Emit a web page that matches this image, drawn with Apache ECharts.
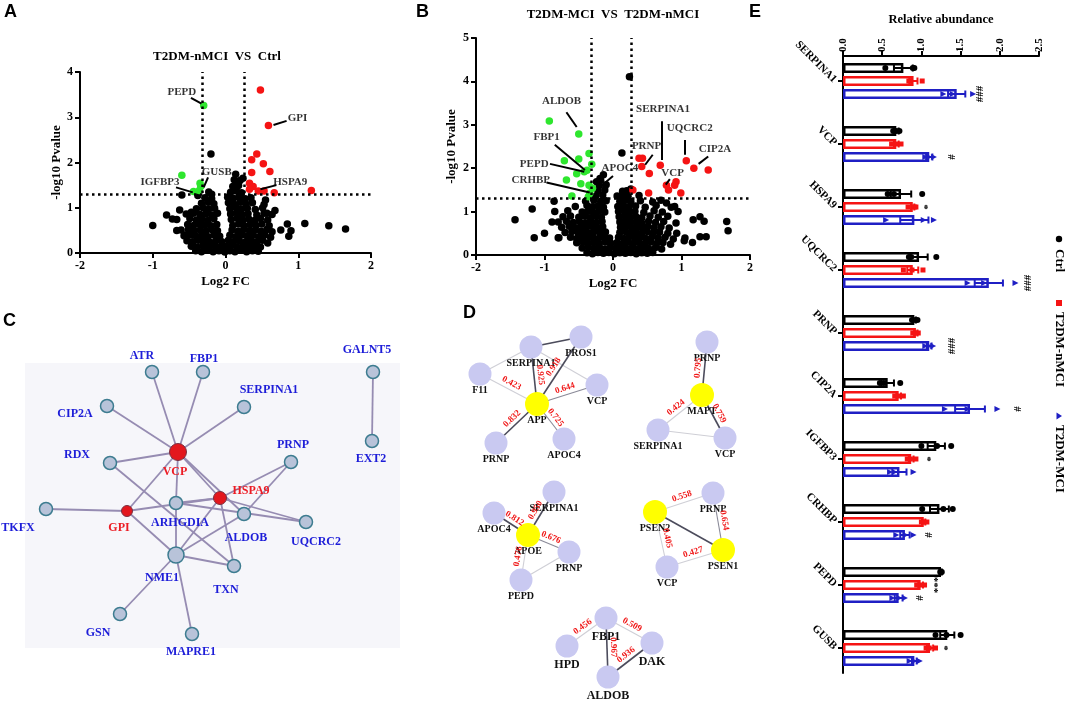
<!DOCTYPE html>
<html><head><meta charset="utf-8">
<script src="https://cdn.jsdelivr.net/npm/echarts/dist/echarts.min.js"></script>
<style>html,body{margin:0;padding:0;background:#fff}#c{width:1065px;height:704px}</style>
</head><body><div id="c"></div>
<script>
// ---------------- DATA ----------------
// Panel A volcano (T2DM-nMCI VS Ctrl): [log2FC, -log10 P]
const aBlack = [[-1.00,0.61],[1.09,0.65],[1.42,0.60],[1.65,0.53],[0.85,0.64],[0.76,0.51],[0.90,0.49],[0.87,0.37],[-0.20,2.19],[-0.38,1.27],[-0.60,1.28],[-0.81,0.84],[-0.73,0.75],[-0.63,0.95],[-0.47,0.90],[-0.61,0.51],[-0.56,0.40],[-0.19,1.30],[0.55,1.17],[0.57,0.88],[0.68,0.94],[0.14,1.74],[0.24,1.65],[0.14,1.58],
[-0.41,0.05],[-0.33,0.03],[-0.25,0.06],[-0.17,0.03],[-0.09,0.05],[-0.01,0.02],[0.06,0.05],[0.13,0.03],[0.21,0.06],[0.29,0.03],[0.37,0.05],[0.45,0.04],
[-0.47,0.15],[-0.39,0.13],[-0.31,0.16],[-0.23,0.14],[-0.15,0.16],[-0.07,0.13],[0.01,0.15],[0.09,0.17],[0.16,0.13],[0.24,0.15],[0.32,0.14],[0.40,0.16],[0.48,0.13],
[-0.53,0.27],[-0.45,0.25],[-0.37,0.28],[-0.29,0.26],[-0.21,0.24],[-0.13,0.27],[-0.05,0.25],[0.04,0.28],[0.11,0.25],[0.19,0.27],[0.27,0.24],[0.35,0.27],[0.43,0.25],[0.51,0.28],[0.58,0.22],
[-0.57,0.38],[-0.48,0.40],[-0.40,0.37],[-0.32,0.39],[-0.24,0.36],[-0.16,0.40],[-0.08,0.37],[0.06,0.39],[0.14,0.36],[0.22,0.40],[0.30,0.37],[0.38,0.39],[0.46,0.36],[0.54,0.40],[0.62,0.35],
[-0.67,0.50],[-0.51,0.52],[-0.43,0.49],[-0.35,0.51],[-0.27,0.48],[-0.19,0.52],[-0.11,0.49],[0.09,0.51],[0.17,0.48],[0.25,0.52],[0.33,0.49],[0.41,0.51],[0.49,0.48],[0.57,0.52],[0.64,0.47],
[-0.52,0.63],[-0.44,0.61],[-0.36,0.64],[-0.28,0.62],[-0.20,0.60],[-0.12,0.63],[0.10,0.61],[0.18,0.64],[0.26,0.60],[0.34,0.63],[0.42,0.61],[0.50,0.64],[0.60,0.60],
[-0.67,0.74],[-0.49,0.76],[-0.40,0.73],[-0.32,0.75],[-0.24,0.72],[-0.16,0.76],[0.08,0.74],[0.16,0.77],[0.24,0.73],[0.32,0.75],[0.40,0.72],[0.48,0.76],[0.58,0.73],
[-0.54,0.86],[-0.44,0.88],[-0.35,0.85],[-0.27,0.87],[-0.19,0.84],[-0.11,0.88],[0.07,0.86],[0.15,0.89],[0.23,0.85],[0.31,0.87],[0.43,0.84],[0.53,0.88],[0.64,0.85],
[-0.40,0.98],[-0.31,1.00],[-0.23,0.97],[-0.15,0.99],[0.06,0.98],[0.14,1.01],[0.22,0.97],[0.30,0.99],[0.41,0.96],[0.51,1.00],
[-0.33,1.10],[-0.24,1.12],[-0.16,1.09],[0.04,1.11],[0.12,1.08],[0.20,1.12],[0.28,1.09],[0.37,1.11],[0.53,1.07],
[-0.28,1.22],[-0.19,1.20],[0.03,1.23],[0.11,1.21],[0.19,1.24],[0.27,1.20],[0.35,1.22],
[-0.23,1.35],[0.07,1.34],[0.15,1.37],[0.22,1.33],[0.10,1.47],[0.18,1.49],[0.12,1.62],[0.20,1.60]];
const aGreen = [[-0.30,3.26],[-0.60,1.72],[-0.35,1.54],[-0.34,1.47],[-0.44,1.36],[-0.36,1.38]];
const aRed = [[0.48,3.60],[0.59,2.82],[0.43,2.19],[0.36,2.06],[0.52,1.97],[0.36,1.78],[0.61,1.80],[0.33,1.54],[0.38,1.47],[0.33,1.41],[0.45,1.37],[0.53,1.37],[0.67,1.33],[1.18,1.38]];
const aLabels = ['PEPD','GPI','GUSB','IGFBP3','HSPA9'];

// Panel B volcano (T2DM-MCI VS T2DM-nMCI)
const bBlack = [[0.24,4.11],[0.13,2.35],[-0.14,1.85],[-0.24,1.69],[-0.19,1.76],[-1.43,0.81],[-1.18,1.06],[-1.15,0.40],[-1.00,0.50],[-0.79,0.40],[-0.86,1.24],[-0.89,0.76],[1.66,0.77],[1.68,0.56],[1.16,0.29],[1.04,0.33],[1.27,0.42],[1.36,0.42],[1.27,0.88],[1.17,0.81],[1.33,0.78],[1.05,0.39],[0.93,0.50],[0.90,1.12],[0.95,1.00],[0.85,1.10],[0.78,1.20],[0.70,1.26],[0.20,1.48],[0.26,1.52],
[-0.38,0.05],[-0.30,0.03],[-0.22,0.06],[-0.14,0.04],[-0.06,0.06],[0.02,0.03],[0.10,0.05],[0.18,0.04],[0.26,0.06],[0.34,0.03],[0.42,0.05],[0.50,0.04],[0.58,0.06],
[-0.45,0.16],[-0.36,0.18],[-0.28,0.15],[-0.20,0.17],[-0.12,0.14],[-0.04,0.17],[0.04,0.15],[0.12,0.18],[0.20,0.15],[0.28,0.17],[0.36,0.14],[0.44,0.18],[0.52,0.15],[0.62,0.17],[0.71,0.14],
[-0.53,0.28],[-0.44,0.30],[-0.36,0.27],[-0.28,0.29],[-0.20,0.26],[-0.11,0.30],[-0.03,0.27],[0.06,0.29],[0.14,0.26],[0.22,0.30],[0.30,0.27],[0.38,0.29],[0.46,0.26],[0.55,0.30],[0.64,0.27],[0.73,0.29],[0.84,0.25],
[-0.80,0.40],[-0.62,0.41],[-0.53,0.38],[-0.45,0.42],[-0.37,0.39],[-0.29,0.41],[-0.21,0.38],[-0.13,0.42],[-0.05,0.39],[0.08,0.41],[0.16,0.38],[0.24,0.42],[0.32,0.39],[0.40,0.41],[0.48,0.38],[0.57,0.42],[0.66,0.39],[0.76,0.41],[0.88,0.37],
[-0.70,0.52],[-0.60,0.54],[-0.51,0.51],[-0.43,0.53],[-0.35,0.50],[-0.27,0.54],[-0.19,0.51],[-0.11,0.53],[0.10,0.52],[0.18,0.54],[0.26,0.51],[0.34,0.53],[0.42,0.50],[0.50,0.54],[0.59,0.51],[0.68,0.53],[0.80,0.50],
[-0.75,0.64],[-0.64,0.66],[-0.55,0.63],[-0.47,0.65],[-0.39,0.62],[-0.31,0.66],[-0.23,0.63],[-0.15,0.65],[0.11,0.64],[0.19,0.66],[0.27,0.63],[0.35,0.65],[0.43,0.62],[0.51,0.66],[0.60,0.63],[0.70,0.65],[0.82,0.62],
[-0.80,0.76],[-0.68,0.78],[-0.58,0.75],[-0.49,0.77],[-0.40,0.74],[-0.32,0.78],[-0.24,0.75],[-0.16,0.77],[0.10,0.76],[0.18,0.78],[0.26,0.75],[0.34,0.77],[0.42,0.74],[0.52,0.78],[0.62,0.75],[0.74,0.77],[0.92,0.74],
[-0.73,0.88],[-0.62,0.90],[-0.50,0.87],[-0.41,0.89],[-0.33,0.86],[-0.25,0.90],[-0.17,0.87],[0.09,0.88],[0.17,0.90],[0.25,0.87],[0.33,0.89],[0.42,0.86],[0.54,0.90],[0.66,0.87],[0.80,0.89],
[-0.85,1.00],[-0.66,1.02],[-0.45,0.99],[-0.36,1.01],[-0.28,0.98],[-0.20,1.02],[-0.12,0.99],[0.08,1.00],[0.16,1.02],[0.24,0.99],[0.32,1.01],[0.45,0.98],[0.60,1.02],[0.72,0.99],
[-0.55,1.12],[-0.38,1.14],[-0.30,1.11],[-0.22,1.13],[-0.14,1.10],[0.07,1.12],[0.15,1.14],[0.23,1.11],[0.33,1.13],[0.47,1.10],[0.63,1.14],
[-0.40,1.24],[-0.28,1.26],[-0.18,1.23],[-0.10,1.25],[0.10,1.24],[0.18,1.26],[0.26,1.23],[0.40,1.25],[0.58,1.22],
[-0.25,1.36],[-0.15,1.38],[0.06,1.36],[0.14,1.38],[0.22,1.35],[0.38,1.37],[-0.22,1.48],[-0.12,1.50],[0.14,1.47],[-0.20,1.60],[-0.10,1.62],[-0.18,1.72]];
const bGreen = [[-0.93,3.09],[-0.50,2.79],[-0.35,2.34],[-0.71,2.17],[-0.50,2.21],[-0.31,2.09],[-0.53,1.87],[-0.42,1.92],[-0.38,1.95],[-0.68,1.73],[-0.47,1.64],[-0.35,1.61],[-0.30,1.54],[-0.34,1.42],[-0.60,1.36],[-0.36,1.34]];
const bRed = [[0.38,2.23],[0.43,2.23],[0.42,2.04],[0.69,2.07],[1.07,2.17],[1.18,2.00],[1.39,1.96],[0.53,1.88],[0.29,1.50],[0.52,1.43],[0.78,1.61],[0.81,1.50],[0.92,1.69],[0.90,1.61],[0.99,1.43]];
const bLabels = ['ALDOB','FBP1','PEPD','CRHBP','APOC4','SERPINA1','PRNP','UQCRC2','CIP2A','VCP'];

// thresholds
const fcLow = -0.32, fcHigh = 0.26, pCut = 1.3;

// Panel C network
const cNodes = ['ATR','FBP1','SERPINA1','CIP2A','VCP','RDX','PRNP','HSPA9','TKFX','GPI','ARHGDIA','ALDOB','UQCRC2','NME1','TXN','GSN','MAPRE1','GALNT5','EXT2'];
const cHubs = ['VCP','HSPA9','GPI'];
const cLinks = [['VCP','ATR'],['VCP','FBP1'],['VCP','SERPINA1'],['VCP','CIP2A'],['VCP','RDX'],['VCP','GPI'],['VCP','ARHGDIA'],['VCP','HSPA9'],['VCP','ALDOB'],
 ['RDX','TXN'],['TKFX','GPI'],['GPI','HSPA9'],['GPI','NME1'],['ARHGDIA','HSPA9'],['ARHGDIA','NME1'],['ARHGDIA','UQCRC2'],['HSPA9','UQCRC2'],['HSPA9','TXN'],['HSPA9','NME1'],
 ['HSPA9','PRNP'],['PRNP','ALDOB'],['ALDOB','NME1'],['NME1','TXN'],['NME1','GSN'],['NME1','MAPRE1'],['GALNT5','EXT2']];

// Panel D correlation subnetworks: [source, target, weight or null, tone]
const dGroups = [
 {nodes:['SERPINA1','PROS1','F11','VCP','APP','PRNP','APOC4'], hubs:['APP'],
  links:[['SERPINA1','PROS1',null,2],['SERPINA1','F11',null,0],['SERPINA1','VCP',null,0],['SERPINA1','APP',0.925,2],['PROS1','APP',0.918,2],['F11','APP',0.423,0],['APP','VCP',0.644,1],['APP','PRNP',0.832,2],['APP','APOC4',0.725,1]]},
 {nodes:['PRNP','MAPT','SERPINA1','VCP'], hubs:['MAPT'],
  links:[['PRNP','MAPT',0.795,2],['MAPT','SERPINA1',0.424,0],['MAPT','VCP',0.759,2],['SERPINA1','VCP',null,0]]},
 {nodes:['SERPINA1','APOC4','APOE','PRNP','PEPD'], hubs:['APOE'],
  links:[['APOC4','APOE',0.812,2],['SERPINA1','APOE',0.950,2],['APOE','PRNP',0.676,1],['APOE','PEPD',0.476,0],['PEPD','PRNP',null,0]]},
 {nodes:['PSEN2','PRNP','PSEN1','VCP'], hubs:['PSEN2','PSEN1'],
  links:[['PSEN2','PRNP',0.558,0],['PSEN2','PSEN1',null,2],['PRNP','PSEN1',0.654,1],['PSEN2','VCP',0.405,0],['VCP','PSEN1',0.427,0]]},
 {nodes:['FBP1','HPD','DAK','ALDOB'], hubs:[],
  links:[['FBP1','HPD',0.456,0],['FBP1','DAK',0.509,0],['FBP1','ALDOB',0.967,2],['ALDOB','DAK',0.936,2]]}
];

// Panel E relative abundance
const eCats = ['SERPINA1','VCP','HSPA9','UQCRC2','PRNP','CIP2A','IGFBP3','CRHBP','PEPD','GUSB'];
const eGroups = ['Ctrl','T2DM-nMCI','T2DM-MCI'];
const ctrlMean = [0.77,0.68,0.74,0.97,0.91,0.57,1.19,1.23,1.25,1.33];
const ctrlSem  = [0.12,0.03,0.13,0.11,0.02,0.08,0.11,0.12,0.01,0.09];
const nmciMean = [0.90,0.68,0.89,0.89,0.93,0.71,0.87,1.03,0.99,1.11];
const nmciSem  = [0.05,0.03,0.02,0.07,0.02,0.03,0.03,0.02,0.03,0.04];
const mciMean  = [1.45,1.10,0.91,1.86,1.10,1.62,0.72,0.79,0.71,0.91];
const mciSem   = [0.11,0.04,0.18,0.18,0.03,0.19,0.09,0.06,0.05,0.03];
const ctrlPts = [[0.54,0.89,0.91],[0.64,0.68,0.72],[0.57,0.65,1.01],[0.84,0.87,1.19],[0.88,0.92,0.95],[0.47,0.52,0.73],[1.00,1.20,1.38],[1.01,1.28,1.40],[1.24,1.25,1.26],[1.18,1.32,1.50]];
const nmciPts = [[0.84,0.86,1.01],[0.62,0.68,0.74],[0.83,0.91,0.93],[0.77,0.88,1.02],[0.89,0.93,0.96],[0.66,0.71,0.77],[0.82,0.86,0.93],[1.00,1.03,1.07],[0.94,0.99,1.04],[1.06,1.10,1.18]];
const mciPts  = [[1.28,1.40,1.66],[1.05,1.10,1.16],[0.55,1.03,1.16],[1.59,1.80,2.20],[1.05,1.10,1.15],[1.30,1.59,1.97],[0.60,0.66,0.90],[0.68,0.80,0.90],[0.63,0.72,0.79],[0.85,0.91,0.98]];
const sigCat   = ['SERPINA1','VCP','HSPA9','UQCRC2','PRNP','CIP2A','IGFBP3','CRHBP','PEPD','PEPD','GUSB'];
const sigGroup = [2,2,1,2,2,2,1,2,1,2,1];
const sigPos   = [1.73,1.37,1.03,2.35,1.37,2.22,1.07,1.08,1.16,0.965,1.28];
const sigText  = ['###','#','*','###','###','#','*','#','***','#','*'];

// ---------------- LAYOUT (positions/styles) ----------------
const FONT = '"Liberation Serif","Times New Roman",serif';
const SANS = '"Liberation Sans",Arial,sans-serif';
const GREEN = '#2ee62e', RED = '#f51414', BLUE = '#1f1fc4';

const aAnnotPos = {PEPD:{at:[-0.60,3.55],from:[-0.475,3.43],to:[-0.33,3.30]},
 GPI:{at:[0.99,2.97],from:[0.84,2.92],to:[0.66,2.83]},
 GUSB:{at:[-0.12,1.78],from:[-0.24,1.67],to:[-0.30,1.45]},
 IGFBP3:{at:[-0.90,1.56],from:[-0.68,1.45],to:[-0.45,1.34]},
 HSPA9:{at:[0.89,1.56],from:[0.70,1.50],to:[0.48,1.41]}};
const bAnnotPos = {ALDOB:{at:[-0.75,3.54],from:[-0.68,3.29],to:[-0.53,2.95]},
 FBP1:{at:[-0.97,2.72],from:[-0.85,2.54],to:[-0.41,1.96]},
 PEPD:{at:[-1.15,2.10],from:[-0.92,2.10],to:[-0.42,1.92]},
 CRHBP:{at:[-1.20,1.72],from:[-0.97,1.67],to:[-0.34,1.44]},
 APOC4:{at:[0.10,2.00],from:[0.00,1.82],to:[-0.21,1.54]},
 SERPINA1:{at:[0.73,3.35],from:[0.71,3.08],to:[0.71,2.19]},
 PRNP:{at:[0.49,2.50],from:[0.58,2.31],to:[0.47,2.08]},
 UQCRC2:{at:[1.12,2.92],from:[1.05,2.65],to:[1.05,2.31]},
 CIP2A:{at:[1.49,2.45],from:[1.39,2.27],to:[1.25,2.10]},
 VCP:{at:[0.87,1.88],from:[0.83,1.75],to:[0.77,1.62]}};

const cPos = {ATR:[152,372,-10,-16],FBP1:[203,372,1,-13],SERPINA1:[244,407,25,-17],CIP2A:[107,406,-32,8],VCP:[178,452,-3,20],RDX:[110,463,-33,-8],
 PRNP:[291,462,2,-17],HSPA9:[220,498,31,-7],TKFX:[46,509,-28,19],GPI:[127,511,-8,17],ARHGDIA:[176,503,4,20],ALDOB:[244,514,2,24],UQCRC2:[306,522,10,20],
 NME1:[176,555,-14,23],TXN:[234,566,-8,24],GSN:[120,614,-22,19],MAPRE1:[192,634,-1,18],GALNT5:[373,372,-6,-22],EXT2:[372,441,-1,18]};
const cSize = {VCP:17,NME1:16,HSPA9:13,GPI:11};
const dPos = [
 {SERPINA1:[531,347],PROS1:[581,337],F11:[480,374],VCP:[597,385],APP:[537,404],PRNP:[496,443],APOC4:[564,439]},
 {PRNP:[707,342],MAPT:[702,395],SERPINA1:[658,430],VCP:[725,438]},
 {SERPINA1:[554,492],APOC4:[494,513],APOE:[528,535],PRNP:[569,552],PEPD:[521,580]},
 {PSEN2:[655,512],PRNP:[713,493],PSEN1:[723,550],VCP:[667,567]},
 {FBP1:[606,618],HPD:[567,646],DAK:[652,643],ALDOB:[608,677]}];

// ---------------- CHART ----------------
const chart = echarts.init(document.getElementById('c'), null, {renderer:'canvas'});

function valAxis(grid, min, max, interval, name, gap, extra){
  return Object.assign({gridIndex:grid, type:'value', min, max, interval, name, nameLocation:'middle', nameGap:gap,
    nameTextStyle:{color:'#000', fontFamily:FONT, fontWeight:'bold', fontSize:13},
    axisLine:{show:true, onZero:false, lineStyle:{color:'#000', width:2}},
    axisTick:{show:true, length:5, lineStyle:{color:'#000', width:2}},
    axisLabel:{color:'#000', fontFamily:FONT, fontWeight:'bold', fontSize:12, margin:7},
    splitLine:{show:false}}, extra||{});
}
const hidden = (grid, min, max, inverse) => ({gridIndex:grid, type:'value', min, max, inverse:!!inverse, show:false, splitLine:{show:false}});

function volcano(idx, black, green, red, labels, pos){
  const annot = labels.map(n => Object.assign({name:n}, pos[n]));
  return [
    {type:'scatter', xAxisIndex:idx, yAxisIndex:idx, data:black, symbolSize:7.5, itemStyle:{color:'#000', opacity:1}, z:2, silent:true,
     markLine:{silent:true, symbol:['none','none'], label:{show:false}, animation:false,
       lineStyle:{type:[2.5,3.5], color:'#000', width:2.5},
       data:[{xAxis:fcLow},{xAxis:fcHigh},{yAxis:pCut}]}},
    {type:'scatter', xAxisIndex:idx, yAxisIndex:idx, data:green, symbolSize:7.5, itemStyle:{color:GREEN, opacity:1}, z:3, silent:true},
    {type:'scatter', xAxisIndex:idx, yAxisIndex:idx, data:red, symbolSize:7.5, itemStyle:{color:RED, opacity:1}, z:3, silent:true},
    {type:'scatter', xAxisIndex:idx, yAxisIndex:idx, z:4, silent:true, symbolSize:1, itemStyle:{color:'rgba(0,0,0,0)'},
     data:annot.map(a => ({name:a.name, value:a.at})),
     label:{show:true, position:'inside', formatter:'{b}', color:'#000', fontFamily:FONT, fontWeight:'bold', fontSize:11},
     markLine:{silent:true, symbol:['none','none'], label:{show:false}, animation:false,
       lineStyle:{type:'solid', color:'#000', width:2},
       data:annot.map(a => [{coord:a.from},{coord:a.to}])}}
  ];
}

const cSeries = {
  type:'graph', coordinateSystem:'cartesian2d', xAxisIndex:2, yAxisIndex:2, layout:'none', z:3, silent:true,
  data: cNodes.map(n => {
    const p = cPos[n], hub = cHubs.includes(n);
    return {name:n, value:[p[0],p[1]], symbolSize:cSize[n]||13,
      itemStyle: hub ? {color:'#e3171d', borderColor:'#7a3040', borderWidth:1} : {color:'#b8c3d9', borderColor:'#3d7c90', borderWidth:1.5},
      label:{show:true, position:'inside', offset:[p[2],p[3]], color: hub ? '#ec1c24' : '#1d1dd8',
        fontFamily:FONT, fontWeight:'bold', fontSize:12}};
  }),
  links: cLinks.map(l => ({source:l[0], target:l[1]})),
  lineStyle:{color:'#968cb2', width:1.8, opacity:1, curveness:0}
};

const toneColor = ['#cfcfd6','#8a8a98','#4c4c5c'];
const dSeries = dGroups.map((g, gi) => ({
  type:'graph', coordinateSystem:'cartesian2d', xAxisIndex:2, yAxisIndex:2, layout:'none', z:3, silent:true,
  data: g.nodes.map(n => {
    const p = dPos[gi][n], hub = g.hubs.includes(n);
    return {name:n, value:[p[0],p[1]], symbolSize: hub ? 24 : 23,
      itemStyle:{color: hub ? '#ffff00' : '#c9c9f1'},
      label:{show:true, position:'inside', offset:[0, gi===4 ? 19 : 16], color:'#111', fontFamily:FONT, fontWeight:'bold', fontSize: gi===4 ? 12 : 10}};
  }),
  links: g.links.map(l => ({source:l[0], target:l[1], value:l[2], lbl: l[2]==null ? '' : l[2].toFixed(3),
     lineStyle:{color:toneColor[l[3]], width: l[3]===2 ? 1.6 : 1.1}})),
  lineStyle:{opacity:1, curveness:0},
  edgeLabel:{show:true, position:'middle', distance:2, formatter: p => p.data.lbl, color:'#f01818', fontFamily:FONT, fontWeight:'bold', fontSize:9}
}));

const eMeans = [ctrlMean, nmciMean, mciMean], eSems = [ctrlSem, nmciSem, mciSem], ePts = [ctrlPts, nmciPts, mciPts];
const eColors = ['#000000', RED, BLUE];
const eSymbols = ['circle','rect','triangle'];
const eSymSize = [6,5,6];
const step = 13;
const eBars = eGroups.map((g, gi) => ({
  type:'bar', name:g, xAxisIndex:3, yAxisIndex:3, data:eMeans[gi], barWidth:10, barGap:'30%', z:2, silent:true,
  itemStyle:{color:'#ffffff', borderColor:eColors[gi], borderWidth:2.5}
}));
const eErr = eGroups.map((g, gi) => ({
  type:'custom', xAxisIndex:3, yAxisIndex:3, z:4, silent:true,
  data: eCats.map((c, i) => [eMeans[gi][i]-eSems[gi][i], i, eMeans[gi][i]+eSems[gi][i]]),
  encode:{x:[0,2], y:1},
  renderItem:(params, api) => {
    const lo = api.coord([api.value(0), api.value(1)]);
    const hi = api.coord([api.value(2), api.value(1)]);
    const y = lo[1] + (gi-1)*step;
    const st = {stroke:eColors[gi], lineWidth:2};
    return {type:'group', children:[
      {type:'line', shape:{x1:lo[0], y1:y, x2:hi[0], y2:y}, style:st},
      {type:'line', shape:{x1:lo[0], y1:y-3.5, x2:lo[0], y2:y+3.5}, style:st},
      {type:'line', shape:{x1:hi[0], y1:y-3.5, x2:hi[0], y2:y+3.5}, style:st}]};
  }
}));
const eDots = eGroups.map((g, gi) => ({
  type:'scatter', xAxisIndex:3, yAxisIndex:3, z:5, silent:true,
  symbol:eSymbols[gi], symbolSize:eSymSize[gi], symbolRotate: gi===2 ? -90 : 0, symbolOffset:[0,(gi-1)*step],
  itemStyle:{color:eColors[gi], opacity:1},
  data: ePts[gi].flatMap((arr, i) => arr.map(v => [v, i]))
}));
const eSig = {
  type:'custom', xAxisIndex:3, yAxisIndex:3, z:5, silent:true,
  data: sigCat.map((c, k) => [sigPos[k], eCats.indexOf(c), sigGroup[k], k]),
  encode:{x:0, y:1},
  renderItem:(params, api) => {
    const p = api.coord([api.value(0), api.value(1)]);
    const g = api.value(2), k = api.value(3);
    return {type:'text', x:p[0], y:p[1] + (g-1)*step, rotation:-Math.PI/2,
      style:{text:sigText[k], align:'center', verticalAlign:'middle', fill:'#000', font:'bold 11px ' + FONT}};
  }
};

const graphics = [
  {type:'rect', z:-10, shape:{x:25, y:363, width:375, height:285}, style:{fill:'#f6f6fa'}},
  {type:'text', x:4, y:3, style:{text:'A', font:'bold 18px ' + SANS, fill:'#000'}},
  {type:'text', x:416, y:3, style:{text:'B', font:'bold 18px ' + SANS, fill:'#000'}},
  {type:'text', x:3, y:312, style:{text:'C', font:'bold 18px ' + SANS, fill:'#000'}},
  {type:'text', x:463, y:304, style:{text:'D', font:'bold 18px ' + SANS, fill:'#000'}},
  {type:'text', x:749, y:3, style:{text:'E', font:'bold 18px ' + SANS, fill:'#000'}},
  {type:'text', x:217, y:57, style:{text:'T2DM-nMCI  VS  Ctrl', font:'bold 13px ' + FONT, fill:'#000', align:'center', verticalAlign:'middle'}},
  {type:'text', x:613, y:15, style:{text:'T2DM-MCI  VS  T2DM-nMCI', font:'bold 13px ' + FONT, fill:'#000', align:'center', verticalAlign:'middle'}},
  {type:'circle', shape:{cx:1059, cy:239, r:3.2}, style:{fill:'#000'}},
  {type:'text', x:1059, y:249, rotation:-Math.PI/2, style:{text:eGroups[0], font:'bold 13px ' + FONT, fill:'#000', align:'left', verticalAlign:'middle'}},
  {type:'rect', shape:{x:1056, y:300, width:6, height:6}, style:{fill:RED}},
  {type:'text', x:1059, y:312, rotation:-Math.PI/2, style:{text:eGroups[1], font:'bold 13px ' + FONT, fill:'#000', align:'left', verticalAlign:'middle'}},
  {type:'polygon', shape:{points:[[1056.5,412.5],[1056.5,419.5],[1062,416]]}, style:{fill:BLUE}},
  {type:'text', x:1059, y:425, rotation:-Math.PI/2, style:{text:eGroups[2], font:'bold 13px ' + FONT, fill:'#000', align:'left', verticalAlign:'middle'}}
];

const option = {
  backgroundColor:'#ffffff',
  animation:false,
  textStyle:{fontFamily:FONT},
  grid:[
    {left:80, top:72, width:291, height:181},
    {left:476, top:38, width:274, height:217},
    {left:0, top:0, width:1065, height:704},
    {left:843, top:49.5, width:196, height:630},
    {left:843, top:56, width:196, height:617}
  ],
  xAxis:[
    valAxis(0, -2, 2, 1, 'Log2 FC', 22),
    valAxis(1, -2, 2, 1, 'Log2 FC', 22),
    hidden(2, 0, 1065),
    valAxis(3, 0, 2.5, 0.5, 'Relative abundance', 30, {position:'top', offset:-6.5,
      nameTextStyle:{color:'#000', fontFamily:FONT, fontWeight:'bold', fontSize:12.5},
      axisLabel:{color:'#000', fontFamily:FONT, fontWeight:'bold', fontSize:11, margin:4, rotate:-90, formatter:v => v.toFixed(1)}}),
    hidden(4, 0, 1)
  ],
  yAxis:[
    valAxis(0, 0, 4, 1, '-log10 Pvalue', 16),
    valAxis(1, 0, 5, 1, '-log10 Pvalue', 18),
    hidden(2, 0, 704, true),
    {gridIndex:3, type:'category', data:eCats, inverse:true,
      axisLine:{show:false}, axisTick:{show:true, alignWithLabel:true, length:5, lineStyle:{color:'#000', width:2}},
      axisLabel:{color:'#000', fontFamily:FONT, fontWeight:'bold', fontSize:11, rotate:-45, margin:8}, splitLine:{show:false}},
    {gridIndex:4, type:'value', min:0, max:1, axisLine:{show:true, onZero:false, lineStyle:{color:'#000', width:2}},
      axisTick:{show:false}, axisLabel:{show:false}, splitLine:{show:false}}
  ],
  graphic: graphics,
  series: [].concat(
    volcano(0, aBlack, aGreen, aRed, aLabels, aAnnotPos),
    volcano(1, bBlack, bGreen, bRed, bLabels, bAnnotPos),
    [cSeries], dSeries, eBars, eErr, eDots, [eSig])
};
chart.setOption(option);
</script></body></html>
